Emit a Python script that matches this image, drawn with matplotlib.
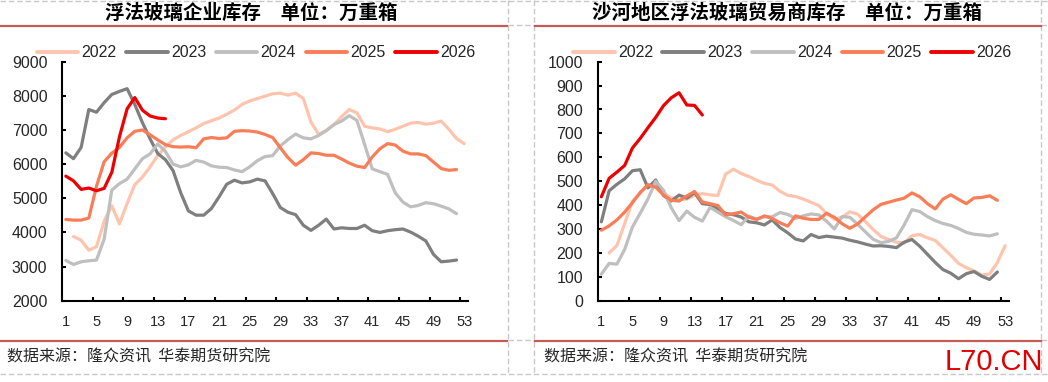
import matplotlib
matplotlib.use("Agg")
import matplotlib.pyplot as plt
from matplotlib.lines import Line2D

plt.rcParams['font.family'] = ['Liberation Sans', 'Noto Sans CJK SC']

W, H = 1048, 382

years = ['2022', '2023', '2024', '2025', '2026']
colors = ['#FFC4AD', '#7F7F7F', '#BFBFBF', '#F97E57', '#EE0000']
tick_weeks = list(range(1, 54, 4))

# 浮法玻璃企业库存 (万重箱), 2022 从第2周开始
left_2022 = [3880, 3770, 3480, 3580, 4330, 4780, 4250, 4850, 5400, 5620,
             5920, 6250, 6510, 6710, 6840, 6950, 7060, 7190, 7270, 7350,
             7460, 7580, 7750, 7850, 7920, 7990, 8060, 8080, 8020, 8080,
             7920, 7230, 6870, 6990, 7150, 7390, 7600, 7500, 7110, 7060,
             7030, 6950, 7020, 7110, 7200, 7220, 7170, 7200, 7260, 7020,
             6750, 6600]
left_2023 = [6330, 6160, 6490, 7600, 7520, 7800, 8040, 8130, 8210, 7750,
             7215, 6740, 6310, 6130, 5810, 5160, 4630, 4505, 4505, 4700,
             5040, 5410, 5530, 5450, 5480, 5560, 5510, 5140, 4730, 4590,
             4520, 4210, 4060, 4210, 4390, 4100, 4135, 4115, 4115, 4210,
             4050, 4000, 4050, 4080, 4100, 4010, 3890, 3750, 3355, 3140,
             3160, 3190]
left_2024 = [3180, 3060, 3140, 3170, 3190, 3800, 5240, 5430, 5560, 5860,
             6160, 6300, 6590, 6370, 6000, 5920, 5980, 6110, 6060, 5950,
             5910, 5900, 5830, 5780, 5920, 6100, 6220, 6250, 6530, 6720,
             6880, 6770, 6740, 6840, 6980, 7160, 7260, 7420, 7280, 6580,
             5860, 5780, 5700, 5160, 4890, 4750, 4790, 4870, 4840, 4770,
             4690, 4550]
left_2025 = [4380, 4360, 4360, 4420, 5350, 6070, 6320, 6490, 6770, 6960,
             7000, 6860, 6710, 6570, 6510, 6500, 6510, 6480, 6740, 6780,
             6750, 6770, 6960, 6980, 6970, 6940, 6870, 6780, 6480, 6190,
             5970, 6130, 6330, 6310, 6260, 6260, 6150, 6030, 5940, 5900,
             6210, 6450, 6600, 6560, 6380, 6300, 6300, 6250, 6060, 5870,
             5820, 5840]
left_2026 = [5650, 5510, 5260, 5300, 5220, 5290, 5760, 6800, 7620, 7950,
             7580, 7410, 7350, 7330]

# 沙河地区浮法玻璃贸易商库存 (万重箱)
right_2022 = [200, 231, 323, 416, 450, 485, 480, 450, 430, 425,
              425, 442, 448, 443, 440, 530, 550, 532, 520, 504,
              491, 484, 458, 441, 436, 425, 412, 398, 365, 341,
              349, 372, 362, 331, 298, 269, 256, 245, 241, 272,
              277, 263, 252, 221, 190, 156, 138, 125, 107, 112,
              160, 230]
right_2023 = [330, 460, 487, 510, 544, 548, 472, 505, 440, 417,
              442, 429, 452, 406, 402, 385, 365, 360, 350, 330,
              326, 317, 338, 306, 284, 258, 250, 277, 264, 270,
              266, 262, 253, 246, 237, 229, 230, 227, 222, 245,
              256, 228, 194, 160, 130, 115, 92, 113, 122, 102,
              89, 120]
right_2024 = [111, 156, 153, 215, 308, 366, 426, 500, 462, 389,
              335, 375, 349, 333, 390, 371, 351, 336, 318, 354,
              341, 351, 351, 369, 361, 344, 355, 363, 359, 333,
              300, 352, 349, 320, 288, 257, 243, 248, 263, 317,
              381, 373, 352, 335, 323, 315, 302, 286, 278, 275,
              271, 280]
right_2025 = [295, 313, 338, 371, 410, 453, 485, 475, 442, 420,
              417, 438, 457, 413, 406, 398, 359, 364, 371, 349,
              340, 355, 344, 326, 312, 355, 345, 340, 340, 366,
              349, 322, 303, 321, 351, 380, 403, 412, 421, 429,
              451, 435, 406, 384, 425, 443, 424, 406, 430, 432,
              439, 420]
right_2026 = [435, 512, 538, 566, 639, 679, 724, 767, 816, 849,
              870, 819, 817, 777]

left_title = '浮法玻璃企业库存\u3000单位：万重箱'
right_title = '沙河地区浮法玻璃贸易商库存\u3000单位：万重箱'
source_text = '数据来源：隆众资讯  华泰期货研究院'


def fx(x):
    return x / W


def fy(y):
    return 1 - y / H


def draw_panel(ax, series, yticks, legend_x):
    for name, vals, c in zip(years, series, colors):
        start = 2 if name == '2022' else 1
        weeks = list(range(start, start + len(vals)))
        ax.plot(weeks, vals, color=c, lw=2.3, label=name,
                solid_joinstyle='round', solid_capstyle='round')
    ax.set_xlim(0.5, 53.5)
    ax.set_ylim(yticks[0], yticks[-1])
    ax.set_yticks(yticks)
    for s in ['top', 'right']:
        ax.spines[s].set_visible(False)
    for s in ['left', 'bottom']:
        ax.spines[s].set_linewidth(1.5)
        ax.spines[s].set_color('black')
    # 标签在周次上, 刻度线在周次之间
    ax.set_xticks(tick_weeks)
    ax.set_xticklabels([str(w) for w in tick_weeks])
    ax.set_xticks([w - 0.5 for w in tick_weeks[1:]], minor=True)
    ax.tick_params(axis='x', which='major', length=0, pad=10,
                   labelsize=10.5, labelcolor='#262626')
    ax.tick_params(axis='x', which='minor', direction='in', length=3,
                   width=1.5)
    ax.tick_params(axis='y', direction='in', length=3, width=1.5,
                   pad=10.5, labelsize=11.5, labelcolor='#262626')
    leg = ax.legend(loc='center', bbox_to_anchor=(legend_x, 1.038), ncol=5,
                    frameon=False, fontsize=11.5, handlelength=2.6,
                    handletextpad=0.2, columnspacing=0.6, borderpad=0,
                    borderaxespad=0)
    for t in leg.get_texts():
        t.set_color('#262626')
    for h in leg.get_lines():
        h.set_linewidth(2.8)


def main():
    fig = plt.figure(figsize=(W / 100, H / 100), dpi=100)

    bottom = fy(300.7)
    height = (300.7 - 61.7) / H
    ax1 = fig.add_axes([fx(62), bottom, 406 / W, height])
    ax2 = fig.add_axes([fx(597.5), bottom, 411.5 / W, height])

    draw_panel(ax1, [left_2022, left_2023, left_2024, left_2025, left_2026],
               list(range(2000, 9001, 1000)), 0.478)
    draw_panel(ax2, [right_2022, right_2023, right_2024, right_2025, right_2026],
               list(range(0, 1001, 100)), 0.473)

    # 虚线框
    dash = dict(color='#C8C8C8', lw=1, linestyle=(0, (4, 2)),
                transform=fig.transFigure)
    for x in [508, 534, 1041]:
        fig.add_artist(Line2D([fx(x), fx(x)], [fy(0), fy(374)], **dash))
    for y in [1, 374]:
        fig.add_artist(Line2D([0, 1], [fy(y), fy(y)], **dash))
    for y in [25, 340]:
        fig.add_artist(Line2D([fx(508), fx(534)], [fy(y), fy(y)], **dash))
        fig.add_artist(Line2D([fx(1041), 1], [fy(y), fy(y)], **dash))

    # 红色分隔线
    red = dict(color='#C65A57', lw=1.6, transform=fig.transFigure)
    for y in [26, 340.5]:
        fig.add_artist(Line2D([0, fx(507)], [fy(y), fy(y)], **red))
        fig.add_artist(Line2D([fx(535), fx(1041)], [fy(y), fy(y)], **red))

    cjk = ['Noto Sans CJK SC', 'DejaVu Sans']
    fig.text(fx(251), fy(13), left_title, ha='center', va='center',
             fontsize=14, fontweight='bold', family=cjk)
    fig.text(fx(787), fy(13), right_title, ha='center', va='center',
             fontsize=14, fontweight='bold', family=cjk)
    fig.text(fx(7), fy(357), source_text, ha='left', va='center',
             fontsize=11.5, color='#262626', family=cjk)
    fig.text(fx(544), fy(357), source_text, ha='left', va='center',
             fontsize=11.5, color='#262626', family=cjk)
    fig.text(fx(1043), fy(362), 'L70.CN', ha='right', va='center',
             fontsize=21, color='#E00000', family=['Liberation Sans'])

    fig.savefig('out.png', dpi=100)


if __name__ == "__main__":
    main()
